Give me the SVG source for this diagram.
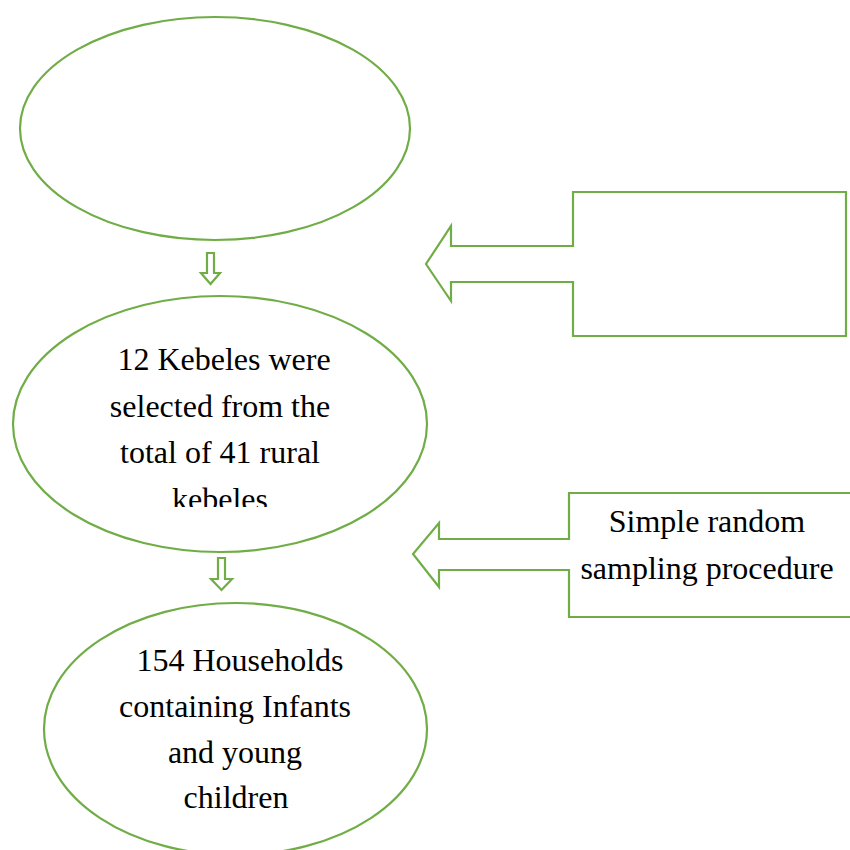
<svg xmlns="http://www.w3.org/2000/svg" width="850" height="850" viewBox="0 0 850 850">
<style>
.sh{fill:#fff;stroke:#70AD47;stroke-width:2.2}
.t{font-family:"Liberation Serif","Times New Roman",serif;font-size:32px;fill:#000;text-anchor:middle}
</style>
<defs>
<clipPath id="clipK"><rect x="0" y="0" width="850" height="507"/></clipPath>
</defs>
<rect width="850" height="850" fill="#fff"/>
<g id="ellipse-top"><ellipse class="sh" cx="215" cy="128.5" rx="195" ry="111.5"/></g>
<g id="ellipse-kebeles">
<ellipse class="sh" cx="220" cy="424" rx="207" ry="128"/>
<g clip-path="url(#clipK)">
<text class="t" x="224" y="370">12 Kebeles were</text>
<text class="t" x="220" y="417">selected from the</text>
<text class="t" x="220" y="463">total of 41 rural</text>
<text class="t" x="220" y="510">kebeles</text>
</g>
</g>
<g id="ellipse-households">
<ellipse class="sh" cx="235.5" cy="729" rx="191.5" ry="126"/>
<text class="t" x="240" y="671">154 Households</text>
<text class="t" x="235" y="717">containing Infants</text>
<text class="t" x="235" y="763">and young</text>
<text class="t" x="236" y="808">children</text>
</g>
<g id="callout-top"><path class="sh" d="M573,192 H846 V336 H573 V282 H451 V301 L426,264 L451,226 V246 H573 Z"/></g>
<g id="callout-sampling">
<path class="sh" d="M569,493 H852 V617 H569 V570 H439 V587 L413,554 L439,523 V539 H569 Z"/>
<text class="t" x="707" y="532">Simple random</text>
<text class="t" x="707" y="579">sampling procedure</text>
</g>
<g id="connectors">
<path class="sh" d="M207,253 H214 V273 H220 L210.5,284 L201,273 H207 Z"/>
<path class="sh" d="M218,558 H225 V579 H232 L221.5,590 L211,579 H218 Z"/>
</g>
</svg>
